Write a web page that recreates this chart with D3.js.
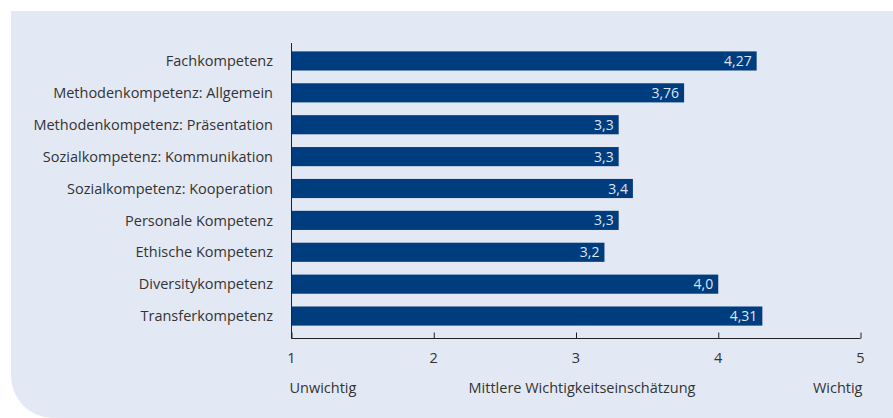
<!DOCTYPE html>
<html><head><meta charset="utf-8">
<script src="https://cdn.jsdelivr.net/npm/d3@7"></script>
<style>
html,body{margin:0;padding:0;background:#fff;}
svg{display:block;font-family:"Open Sans",sans-serif;}
</style></head>
<body>
<svg id="chart" width="893" height="418"></svg>
<script>
const categories = ["Fachkompetenz","Methodenkompetenz: Allgemein","Methodenkompetenz: Präsentation","Sozialkompetenz: Kommunikation","Sozialkompetenz: Kooperation","Personale Kompetenz","Ethische Kompetenz","Diversitykompetenz","Transferkompetenz"];
const values = [4.27, 3.76, 3.3, 3.3, 3.4, 3.3, 3.2, 4.0, 4.31];
const valueLabels = ["4,27","3,76","3,3","3,3","3,4","3,3","3,2","4,0","4,31"];
const tickValues = [1,2,3,4,5];
const axisLabels = ["Unwichtig","Mittlere Wichtigkeitseinschätzung","Wichtig"];

const svg = d3.select("#chart");
const W = 893, H = 418;
const px0 = 11, py0 = 11, r = 42;
svg.append("path")
  .attr("d", `M${px0},${py0} H${W} V${H} H${px0+r} A${r},${r} 0 0 1 ${px0},${H-r} Z`)
  .attr("fill", "#e3e9f4");

const x = d3.scaleLinear().domain([1,5]).range([291.5, 860.5]);
const y = d3.scaleBand().domain(categories).range([45, 332]).paddingInner(0.4).paddingOuter(0.2);
const axisY = 338.5;
const textColor = "#333333";
const barColor = "#003d7e";
const fs = 14.5;

svg.append("g").selectAll("rect").data(categories).join("rect")
  .attr("x", x(1))
  .attr("y", d => y(d))
  .attr("width", (d,i) => x(values[i]) - x(1))
  .attr("height", y.bandwidth())
  .attr("fill", barColor);

svg.append("g").selectAll("text").data(categories).join("text")
  .attr("x", (d,i) => x(values[i]) - 5)
  .attr("y", d => y(d) + y.bandwidth()/2)
  .attr("dy", "0.36em")
  .attr("text-anchor", "end")
  .attr("font-size", 14)
  .attr("fill", "#dde5f1")
  .text((d,i) => valueLabels[i]);

svg.append("g").selectAll("text").data(categories).join("text")
  .attr("x", 273)
  .attr("y", d => y(d) + y.bandwidth()/2)
  .attr("dy", "0.36em")
  .attr("text-anchor", "end")
  .attr("font-size", fs)
  .attr("fill", textColor)
  .text(d => d);

svg.append("line")
  .attr("x1", x(1)).attr("x2", x(1))
  .attr("y1", 43).attr("y2", axisY)
  .attr("stroke", "#222").attr("stroke-width", 1);

const xAxis = d3.axisTop(x).tickValues(tickValues).tickSize(6).tickFormat("");
const gx = svg.append("g").attr("transform", `translate(0,${axisY})`).call(xAxis);
gx.select(".domain").attr("stroke", "#222").attr("d", `M${x(1)},0H${x(5)}`);
gx.selectAll(".tick line").attr("stroke", "#222");

svg.append("g").selectAll("text").data(tickValues).join("text")
  .attr("x", d => x(d))
  .attr("y", 358)
  .attr("dy", "0.36em")
  .attr("text-anchor", "middle")
  .attr("font-size", fs)
  .attr("fill", textColor)
  .text(d => d);

const axisLabelPos = [{v:1, anchor:"start", dx:-2},{v:3, anchor:"middle", dx:6},{v:5, anchor:"end", dx:2}];
svg.append("g").selectAll("text").data(axisLabels).join("text")
  .attr("x", (d,i) => x(axisLabelPos[i].v) + axisLabelPos[i].dx)
  .attr("y", 388)
  .attr("dy", "0.36em")
  .attr("text-anchor", (d,i) => axisLabelPos[i].anchor)
  .attr("font-size", fs)
  .attr("fill", textColor)
  .text(d => d);
</script>
</body></html>
